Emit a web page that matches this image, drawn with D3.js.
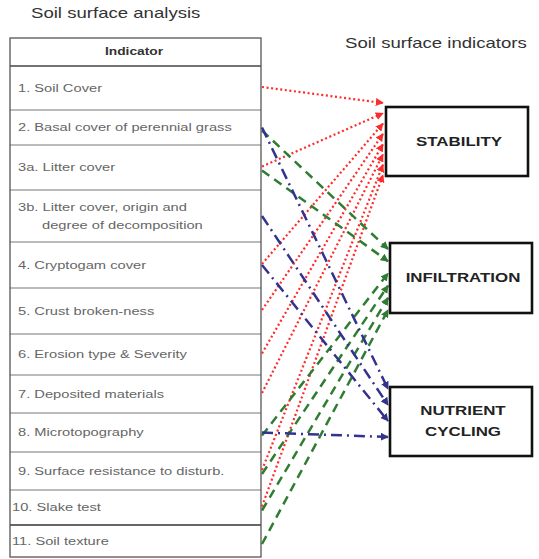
<!DOCTYPE html>
<html><head><meta charset="utf-8">
<script src="https://cdn.jsdelivr.net/npm/d3@7"></script>
<style>body{margin:0;background:#fff}svg{display:block}</style>
</head><body>
<script>
// ---- data ----
const indicatorIds = ["1","2","3a","3b","4","5","6","7","8","9","10","11"];
const indicatorLabels = [
  ["1. Soil Cover"],
  ["2. Basal cover of perennial grass"],
  ["3a. Litter cover"],
  ["3b. Litter cover, origin and", "degree of decomposition"],
  ["4. Cryptogam cover"],
  ["5. Crust broken-ness"],
  ["6. Erosion type & Severity"],
  ["7. Deposited materials"],
  ["8. Microtopography"],
  ["9. Surface resistance to disturb."],
  ["10. Slake test"],
  ["11. Soil texture"]
];
const indexNames = [["STABILITY"], ["INFILTRATION"], ["NUTRIENT", "CYCLING"]];
const stabilityInputs = ["1","3a","4","5","6","7","9","10"];
const infiltrationInputs = ["2","3a","8","9","10","11"];
const nutrientInputs = ["2","3b","4","8"];

// ---- layout ----
const W = 539, H = 559;
const svg = d3.select("body").append("svg").attr("width", W).attr("height", H);
const font = "'Liberation Sans', Arial, sans-serif";
const SX = 1.3; // horizontal stretch of the lettering

function addText(parent, x, y, str, opts) {
  return parent.append("text")
    .attr("transform", `translate(${x},${y}) scale(${opts.sx || SX},1)`)
    .attr("font-family", font).attr("font-size", opts.size)
    .attr("font-weight", opts.bold ? "bold" : "normal")
    .attr("fill", opts.fill).attr("text-anchor", opts.anchor || "start")
    .attr("dominant-baseline", "middle").text(str);
}

const tableX0 = 10, tableX1 = 261, tableTop = 38, headerBottom = 66;
const rowHeights = [44,35,45,52,46,46,41,38,39,38,35,32];
const bounds = [headerBottom];
rowHeights.forEach(h => bounds.push(bounds[bounds.length-1] + h));
const rowMid = d3.scaleOrdinal().domain(indicatorIds).range(bounds.slice(0,-1).map((b,i)=> b + rowHeights[i]/2));

// titles
addText(svg, 31, 14, "Soil surface analysis", {size: 14.3, fill: "#333"});
addText(svg, 345, 44, "Soil surface indicators", {size: 14.3, fill: "#333"});

// table
const tbl = svg.append("g");
tbl.selectAll("line.sep").data(bounds.slice(1,-1)).join("line")
  .attr("x1", tableX0).attr("x2", tableX1).attr("y1", d=>d).attr("y2", d=>d)
  .attr("stroke", (d,i)=> i===10 ? "#333" : "#777").attr("stroke-width", (d,i)=> i===10 ? 1.7 : 1);
tbl.append("line").attr("x1", tableX0).attr("x2", tableX1).attr("y1", headerBottom).attr("y2", headerBottom)
  .attr("stroke", "#444").attr("stroke-width", 1.3);
tbl.append("rect").attr("x", tableX0).attr("y", tableTop).attr("width", tableX1-tableX0).attr("height", bounds[bounds.length-1]-tableTop)
  .attr("fill", "none").attr("stroke", "#555").attr("stroke-width", 1.3);
addText(tbl, 134, 52, "Indicator", {size: 11, bold: true, fill: "#333", anchor: "middle", sx: 1.25});

indicatorIds.forEach((id, i) => {
  const lines = indicatorLabels[i];
  const x = /\d\d/.test(id) ? 12 : 18;
  lines.forEach((s, j) => {
    const yc = rowMid(id) + (lines.length > 1 ? (j - 0.5) * 18 : 0) + 1;
    addText(tbl, j === 0 ? x : 42, yc, s, {size: 11.3, fill: "#666"});
  });
});

// boxes
const boxes = [
  {x0:386, x1:528, y0:107, y1:176},
  {x0:390, x1:532, y0:243, y1:313},
  {x0:390, x1:532, y0:387, y1:456}
];

// link styles
const styles = [
  {color:"#ff2a2a", dash:"2,2.6", width:2.2, end: 383, y0:103, y1:175, off:-1, inputs: stabilityInputs},
  {color:"#2f7d32", dash:"9,6", width:2.5, end: 388, y0:249, y1:310, off:3, inputs: infiltrationInputs},
  {color:"#33338f", dash:"11,5,2,5", width:2.5, end: 388, y0:389, y1:437, off:0, inputs: nutrientInputs}
];

const defs = svg.append("defs");
styles.forEach((s, k) => {
  defs.append("marker").attr("id", "ah"+k).attr("viewBox","0 0 10 10").attr("refX", 9).attr("refY", 5)
    .attr("markerWidth", 8).attr("markerHeight", 8).attr("markerUnits","userSpaceOnUse").attr("orient","auto")
    .append("path").attr("d","M0,0L10,5L0,10Z").attr("fill", s.color);
});

const linkG = svg.append("g");
styles.forEach((s, k) => {
  const arrive = d3.scalePoint().domain(s.inputs).range([s.y0, s.y1]);
  linkG.append("g").selectAll("line").data(s.inputs).join("line")
    .attr("x1", tableX1 + 1).attr("y1", d => rowMid(d) + s.off)
    .attr("x2", s.end).attr("y2", d => arrive(d))
    .attr("stroke", s.color).attr("stroke-width", s.width)
    .attr("stroke-dasharray", s.dash)
    .attr("marker-end", `url(#ah${k})`);
});

// boxes on top
const bg = svg.append("g");
boxes.forEach((b, i) => {
  bg.append("rect").attr("x", b.x0).attr("y", b.y0).attr("width", b.x1-b.x0).attr("height", b.y1-b.y0)
    .attr("fill","#fff").attr("stroke","#111").attr("stroke-width", 2.6);
  const lines = indexNames[i];
  lines.forEach((s, j) => {
    addText(bg, (b.x0+b.x1)/2 + 2, (b.y0+b.y1)/2 + 1 + (j - (lines.length-1)/2)*21, s,
      {size: 13, bold: true, fill: "#222", anchor: "middle"});
  });
});
</script>
</body></html>
